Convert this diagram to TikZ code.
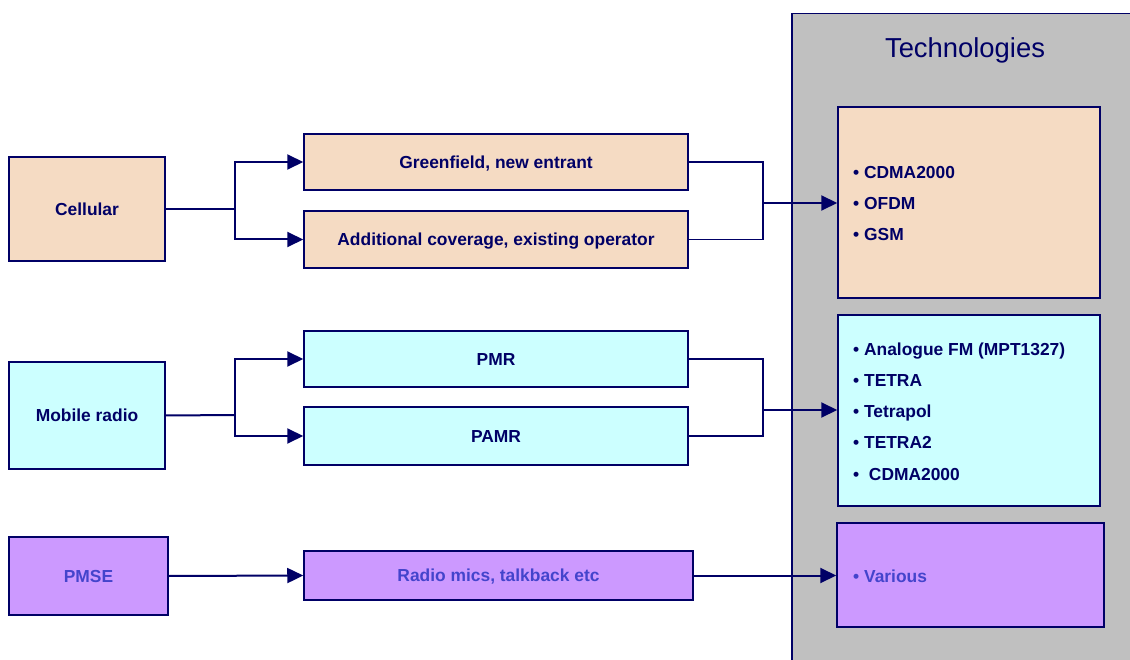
\documentclass[tikz,border=0pt]{standalone}
\usepackage{fontspec}
\setmainfont{Liberation Sans}
\usetikzlibrary{arrows.meta}
\definecolor{navy}{RGB}{0,0,102}
\definecolor{peach}{RGB}{245,219,195}
\definecolor{cyanbox}{RGB}{204,255,255}
\definecolor{purplebox}{RGB}{204,153,255}
\definecolor{panelgray}{RGB}{192,192,192}
\definecolor{pmsetext}{RGB}{68,68,204}
\begin{document}
\begin{tikzpicture}[x=1pt,y=-1pt,
  box/.style={draw=navy,line width=1.5pt,inner sep=0pt,font=\fontsize{17.4}{20}\selectfont\bfseries,text=navy,text height=12.4pt,text depth=0pt},
  conn/.style={navy,line width=2pt},
  arr/.style={conn,-{Triangle[length=16pt,width=15pt]}},
  item/.style={anchor=west,font=\fontsize{17.4}{20}\selectfont\bfseries,text=navy,inner sep=0pt,text height=12.4pt,text depth=0pt}]
\useasboundingbox (0,0) rectangle (1130,660);
\clip (0,0) rectangle (1130,660);
% panel
\node[draw=navy,line width=1.5pt,fill=panelgray,anchor=north west,minimum width=360pt,minimum height=670pt,inner sep=0pt] (panel) at (791,13) {};
\node[font=\fontsize{27.4}{30}\selectfont,text=navy] (title) at (965,50) {Technologies};
% left boxes
\node[box,fill=peach,minimum width=156pt,minimum height=104pt] (cell) at (87,209) {Cellular};
\node[box,fill=cyanbox,minimum width=156pt,minimum height=107pt] (mob) at (87,415.5) {Mobile radio};
\node[box,fill=purplebox,text=pmsetext,minimum width=159pt,minimum height=78pt] (pmse) at (88.5,576) {PMSE};
% middle boxes
\node[box,fill=peach,minimum width=384pt,minimum height=56pt] (green) at (496,162) {Greenfield, new entrant};
\node[box,fill=peach,minimum width=384pt,minimum height=57pt] (add) at (496,239.5) {Additional coverage, existing operator};
\node[box,fill=cyanbox,minimum width=384pt,minimum height=56pt] (pmr) at (496,359) {PMR};
\node[box,fill=cyanbox,minimum width=384pt,minimum height=58pt] (pamr) at (496,436) {PAMR};
\node[box,fill=purplebox,text=pmsetext,minimum width=389pt,minimum height=49pt] (mics) at (498.5,575.5) {Radio mics, talkback etc};
% tech boxes
\node[box,fill=peach,minimum width=262pt,minimum height=191pt] (tech1) at (969,202.5) {};
\node[box,fill=cyanbox,minimum width=262pt,minimum height=191pt] (tech2) at (969,410.5) {};
\node[box,fill=purplebox,minimum width=267pt,minimum height=104pt] (tech3) at (970.5,575) {};
% tech items
\node[item] (a1) at (853,172) {• CDMA2000};
\node[item] (a2) at (853,203) {• OFDM};
\node[item] (a3) at (853,234) {• GSM};
\node[item] (b1) at (853,349) {• Analogue FM (MPT1327)};
\node[item] (b2) at (853,380) {• TETRA};
\node[item] (b3) at (853,411) {• Tetrapol};
\node[item] (b4) at (853,442) {• TETRA2};
\node[item] (b5) at (853,474) {•\ \ CDMA2000};
\node[item,text=pmsetext] (c1) at (853,576) {• Various};
% connectors
\coordinate (s1) at (235,209);
\coordinate (s2) at (235,415);
\coordinate (j1) at (763,203);
\coordinate (j2) at (763,410);
\draw[conn] (cell.east) -- (s1);
\draw[arr] (s1) |- (green.west);
\draw[arr] (s1) |- (add.west);
\draw[conn,line width=1.5pt] (green.east) -| (j1);
\draw[conn,line width=1.5pt] (add.east) -| (j1);
\draw[arr] (j1) -- (j1 -| tech1.west);
\draw[conn] (mob.east) -- (s2);
\draw[arr] (s2) |- (pmr.west);
\draw[arr] (s2) |- (pamr.west);
\draw[conn,line width=1.5pt] (pmr.east) -| (j2);
\draw[conn,line width=1.5pt] (pamr.east) -| (j2);
\draw[arr] (j2) -- (j2 -| tech2.west);
\draw[arr] (pmse.east) -- (mics.west);
\draw[arr] (mics.east) -- (mics.east -| tech3.west);
\end{tikzpicture}
\end{document}
